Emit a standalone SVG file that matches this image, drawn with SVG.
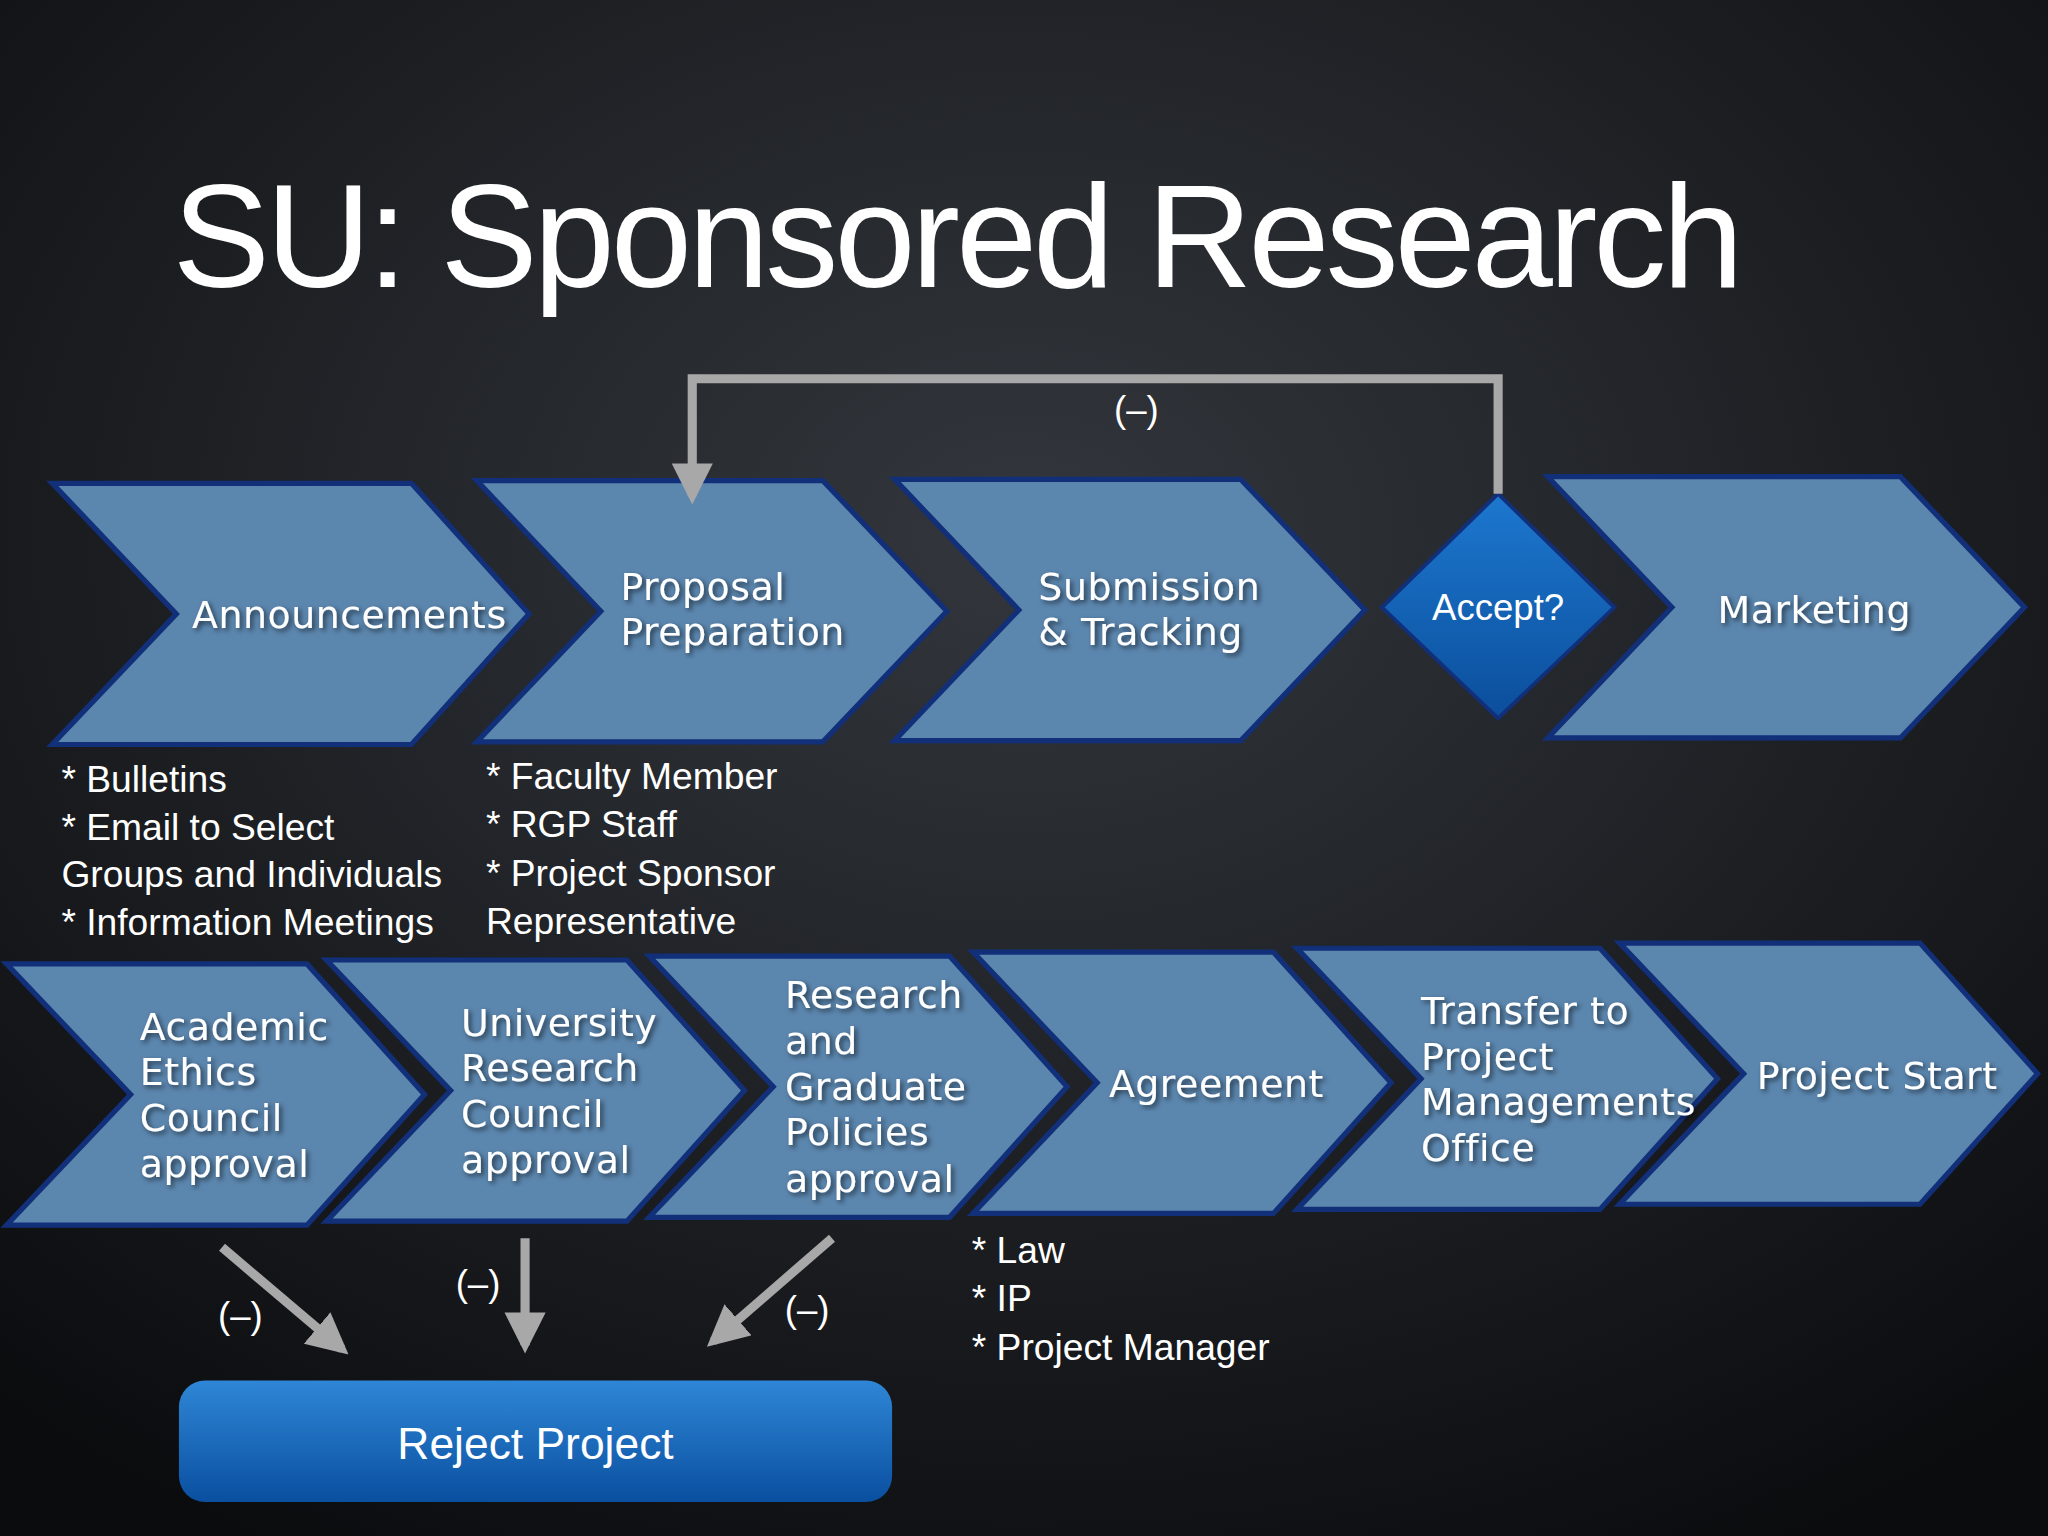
<svg xmlns="http://www.w3.org/2000/svg" width="2048" height="1536" viewBox="0 0 2048 1536">
<defs>
<radialGradient id="bg" cx="50%" cy="35%" r="75%">
<stop offset="0" stop-color="#33373d"/><stop offset="1" stop-color="#0b0c0e"/>
</radialGradient>
<linearGradient id="btn" x1="0" y1="0" x2="0" y2="1">
<stop offset="0" stop-color="#2f86d6"/><stop offset="1" stop-color="#0a4fa0"/>
</linearGradient>
<linearGradient id="dia" x1="0" y1="0" x2="0" y2="1">
<stop offset="0" stop-color="#1d78cf"/><stop offset="1" stop-color="#0b4e9c"/>
</linearGradient>
<marker id="ah" viewBox="0 0 10 10" refX="8" refY="5" markerWidth="4.5" markerHeight="4.5" orient="auto" markerUnits="strokeWidth">
<path d="M0,0 L10,5 L0,10 z" fill="#a8a8a8"/>
</marker>
<filter id="sh"><feDropShadow dx="2" dy="2" stdDeviation="2" flood-color="#000" flood-opacity="0.6"/></filter>
</defs>
<style>
.chev{fill:#5b86ae;stroke:#12307a;stroke-width:4;stroke-linejoin:miter}
.lbl{font-family:"DejaVu Sans",sans-serif;font-size:29px;fill:#fff;letter-spacing:0.4px;filter:url(#sh)}
.note{font-family:"Liberation Sans",sans-serif;font-size:28.5px;fill:#fff}
.con{stroke:#a8a8a8;stroke-width:7;fill:none}
.neg{font-family:"Liberation Sans",sans-serif;font-size:28px;fill:#fff}
</style>
<rect width="2048" height="1536" fill="url(#bg)"/>
<g transform="scale(1.30612)">
<text x="132" y="220" font-family="Liberation Sans, sans-serif" font-size="112" fill="#fff" textLength="1203">SU: Sponsored Research</text>

<g id="announcements"><polygon class="chev" points="40,370 315,370 405,470 315,570 40,570 135,470"/>
<text class="lbl" x="147" y="481">Announcements</text></g>
<g id="proposal"><polygon class="chev" points="365,368 630,368 725,468 630,568 365,568 460,468"/>
<text class="lbl" x="475" y="459">Proposal</text><text class="lbl" x="475" y="494">Preparation</text></g>
<g id="submission"><polygon class="chev" points="685,367 950,367 1045,467 950,567 685,567 780,467"/>
<text class="lbl" x="795" y="459">Submission</text><text class="lbl" x="795" y="494">&amp; Tracking</text></g>
<g id="accept"><polygon points="1147,378 1236,465 1147,550 1058,465" fill="url(#dia)" stroke="#12307a" stroke-width="3"/>
<text x="1147" y="475" text-anchor="middle" font-family="Liberation Sans, sans-serif" font-size="28" fill="#fff">Accept?</text></g>
<g id="marketing"><polygon class="chev" points="1185,365 1455,365 1550,465 1455,565 1185,565 1280,465"/>
<text class="lbl" x="1315" y="477">Marketing</text></g>

<g id="academic"><polygon class="chev" points="5,738 235,738 325,838 235,938 5,938 100,838"/>
<text class="lbl" x="107" y="796">Academic</text><text class="lbl" x="107" y="831">Ethics</text><text class="lbl" x="107" y="866">Council</text><text class="lbl" x="107" y="901">approval</text></g>
<g id="university"><polygon class="chev" points="250,735 480,735 570,835 480,935 250,935 345,835"/>
<text class="lbl" x="353" y="793">University</text><text class="lbl" x="353" y="828">Research</text><text class="lbl" x="353" y="863">Council</text><text class="lbl" x="353" y="898">approval</text></g>
<g id="research"><polygon class="chev" points="497,732 727,732 817,832 727,932 497,932 592,832"/>
<text class="lbl" x="601" y="772">Research</text><text class="lbl" x="601" y="807">and</text><text class="lbl" x="601" y="842">Graduate</text><text class="lbl" x="601" y="877">Policies</text><text class="lbl" x="601" y="913">approval</text></g>
<g id="agreement"><polygon class="chev" points="745,729 975,729 1065,829 975,929 745,929 840,829"/>
<text class="lbl" x="849" y="840">Agreement</text></g>
<g id="transfer"><polygon class="chev" points="993,726 1225,726 1315,826 1225,926 993,926 1088,826"/>
<text class="lbl" x="1088" y="784">Transfer to</text><text class="lbl" x="1088" y="819">Project</text><text class="lbl" x="1088" y="854">Managements</text><text class="lbl" x="1088" y="889">Office</text></g>
<g id="projectstart"><polygon class="chev" points="1240,722 1470,722 1560,822 1470,922 1240,922 1335,822"/>
<text class="lbl" x="1345" y="834">Project Start</text></g>

<g id="notes">
<text class="note" x="47" y="606">* Bulletins</text>
<text class="note" x="47" y="643">* Email to Select</text>
<text class="note" x="47" y="679">Groups and Individuals</text>
<text class="note" x="47" y="716">* Information Meetings</text>
<text class="note" x="372" y="604">* Faculty Member</text>
<text class="note" x="372" y="641">* RGP Staff</text>
<text class="note" x="372" y="678">* Project Sponsor</text>
<text class="note" x="372" y="715">Representative</text>
<text class="note" x="744" y="967">* Law</text>
<text class="note" x="744" y="1004">* IP</text>
<text class="note" x="744" y="1041">* Project Manager</text>
</g>

<g id="reject"><rect x="137" y="1057" width="546" height="93" rx="20" fill="url(#btn)"/>
<text x="410" y="1117" text-anchor="middle" font-family="Liberation Sans, sans-serif" font-size="34" fill="#fff">Reject Project</text></g>

<g id="connectors">
<path class="con" d="M1147,378 V290 H530 V380" marker-end="url(#ah)"/>
<path class="con" d="M170,955 L262,1033" marker-end="url(#ah)"/>
<path class="con" d="M402,948 V1030" marker-end="url(#ah)"/>
<path class="con" d="M637,948 L546,1027" marker-end="url(#ah)"/>
<text class="neg" x="870" y="323" text-anchor="middle">(–)</text>
<text class="neg" x="184" y="1017" text-anchor="middle">(–)</text>
<text class="neg" x="366" y="992" text-anchor="middle">(–)</text>
<text class="neg" x="618" y="1012" text-anchor="middle">(–)</text>
</g>
</g>
</svg>
